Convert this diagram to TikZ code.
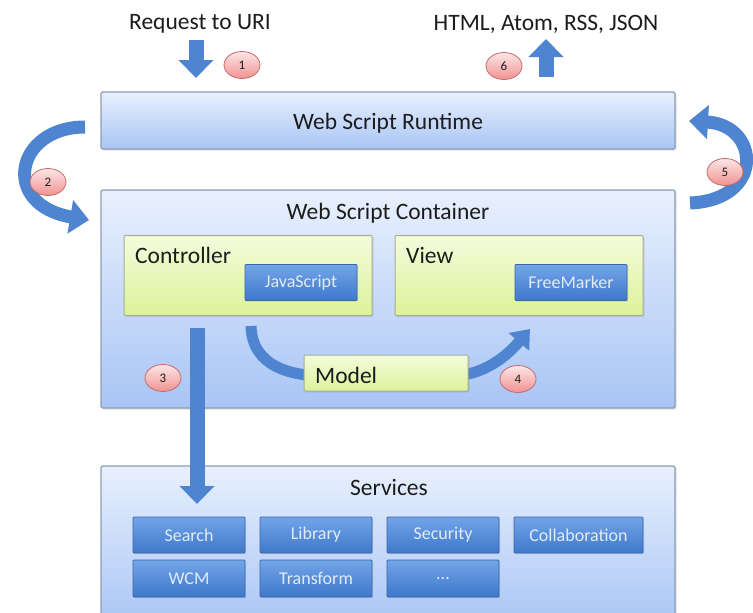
\documentclass[tikz,border=0pt]{standalone}
\usepackage{fontspec}
\setmainfont{Carlito}
\usetikzlibrary{arrows.meta,shadows,shapes.geometric}

\definecolor{boxtop}{HTML}{E8F0FD}
\definecolor{boxbot}{HTML}{A9C5F5}
\definecolor{boxedge}{HTML}{8C9DB6}
\definecolor{greentop}{HTML}{F4FCDC}
\definecolor{greenbot}{HTML}{DCF29A}
\definecolor{greenedge}{HTML}{A3AE92}
\definecolor{btntop}{HTML}{72A5E8}
\definecolor{btnbot}{HTML}{3F78CA}
\definecolor{btnedge}{HTML}{3A66A8}
\definecolor{btntext}{HTML}{E2EBF7}
\definecolor{badgetop}{HTML}{FDE6E6}
\definecolor{badgebot}{HTML}{F09292}
\definecolor{badgeedge}{HTML}{C46B6B}
\definecolor{arrowblue}{HTML}{4E84D0}
\definecolor{ink}{HTML}{1C1C1C}

\tikzset{
  panel/.style={draw=boxedge, line width=1.2pt, top color=boxtop, bottom color=boxbot,
    rounded corners=1.5pt, inner sep=0pt,
    drop shadow={opacity=0.25, shadow xshift=1.5pt, shadow yshift=-1.5pt}},
  greenbox/.style={draw=greenedge, line width=1pt, top color=greentop, bottom color=greenbot,
    rounded corners=1pt, inner sep=0pt,
    drop shadow={opacity=0.2, shadow xshift=1.5pt, shadow yshift=-1.5pt}},
  btn/.style={draw=btnedge, line width=0.8pt, top color=btntop, bottom color=btnbot,
    text=btntext, rounded corners=1pt, inner sep=0pt,
    font=\fontsize{18}{20}\selectfont,
    drop shadow={opacity=0.25, shadow xshift=1pt, shadow yshift=-1pt}},
  badge/.style={ellipse, draw=badgeedge, line width=0.8pt, top color=badgetop,
    bottom color=badgebot, minimum width=36pt, minimum height=27pt, inner sep=0pt,
    text=ink, font=\fontsize{13}{14}\selectfont},
  bigtext/.style={text=ink, font=\fontsize{23.5}{26}\selectfont, inner sep=0pt},
  flow/.style={draw=arrowblue, line width=15pt,
    -{Triangle[width=34pt,length=18pt]}},
  curvearrow/.style={draw=arrowblue, line width=13pt,
    -{Triangle[width=33pt,length=19pt]}},
}

\begin{document}
\begin{tikzpicture}[x=1pt,y=1pt]
  \useasboundingbox[fill=white] (0,0) rectangle (753,-613);

  % top captions
  \node[bigtext] (req) at (200,-24) {Request to URI};
  \node[bigtext] (out) at (546,-24) {HTML, Atom, RSS, JSON};

  % runtime layer
  \node[panel, minimum width=574pt, minimum height=57pt] (runtime) at (388,-120.5) {};
  \node[bigtext] (runtimetxt) at (388,-123) {Web Script Runtime};

  % container layer
  \node[panel, minimum width=574pt, minimum height=218pt] (container) at (388,-299) {};
  \node[bigtext] (ctitle) at (388,-213) {Web Script Container};

  \node[greenbox, minimum width=248pt, minimum height=80pt] (controller) at (248,-275.5) {};
  \node[bigtext, anchor=west] (ctrltxt) at (135,-255) {Controller};
  \node[btn, minimum width=112pt, minimum height=36pt] (js) at (301,-282.5) {JavaScript};

  \node[greenbox, minimum width=248pt, minimum height=80pt] (view) at (519,-275.5) {};
  \node[bigtext, anchor=west] (viewtxt) at (406,-255) {View};
  \node[btn, minimum width=112pt, minimum height=36pt] (fm) at (571,-282.5) {FreeMarker};

  % controller -> model -> view
  \coordinate (c4a) at (251,-326);
  \coordinate (c4b) at (530,-329);
  \draw[curvearrow, line width=11pt, -{Triangle[width=26pt,length=17pt]}]
     (c4a) .. controls (252,-366) and (290,-376) .. (325,-376)
     -- (450,-376) .. controls (482,-376) and (505,-358) .. (c4b);
  \node[greenbox, minimum width=164pt, minimum height=36pt] (model) at (386,-373) {};
  \node[bigtext, anchor=west] (modeltxt) at (315,-375) {Model};

  % services layer
  \node[panel, minimum width=574pt, minimum height=160pt] (services) at (388,-546) {};
  \node[bigtext] (stitle) at (389,-487) {Services};

  \node[btn, minimum width=112pt, minimum height=36pt] (search) at (189,-535) {Search};
  \node[btn, minimum width=112pt, minimum height=36pt] (library) at (316,-535) {Library};
  \node[btn, minimum width=112pt, minimum height=36pt] (security) at (443,-535) {Security};
  \node[btn, minimum width=129pt, minimum height=36pt] (collab) at (578.5,-535) {Collaboration};
  \node[btn, minimum width=112pt, minimum height=37pt] (wcm) at (189,-578.5) {WCM};
  \node[btn, minimum width=112pt, minimum height=37pt] (transform) at (316,-578.5) {Transform};
  \node[btn, minimum width=112pt, minimum height=37pt] (more) at (443,-578.5) {...};

  % flow arrows
  \coordinate (a1s) at (196,-40);
  \coordinate (a1e) at (196,-78);
  \draw[flow] (a1s) -- (a1e);

  \coordinate (a6s) at (546,-77);
  \coordinate (a6e) at (546,-39);
  \draw[flow] (a6s) -- (a6e);

  \coordinate (a2s) at (85,-127);
  \coordinate (a2e) at (89,-220);
  \draw[curvearrow] (a2s) .. controls (15,-127) and (0,-205) .. (a2e);

  \coordinate (a5s) at (690,-203);
  \coordinate (a5e) at (689,-121);
  \draw[curvearrow] (a5s) .. controls (765,-200) and (760,-125) .. (a5e);

  \coordinate (a3s) at (197,-328);
  \coordinate (a3e) at (197,-504);
  \draw[flow] (a3s) -- (a3e);

  % step badges
  \node[badge] (b1) at (242,-65) {1};
  \node[badge] (b2) at (48,-182) {2};
  \node[badge] (b3) at (163,-378) {3};
  \node[badge] (b4) at (518,-379) {4};
  \node[badge] (b5) at (725,-172) {5};
  \node[badge] (b6) at (504,-66) {6};
\end{tikzpicture}
\end{document}
